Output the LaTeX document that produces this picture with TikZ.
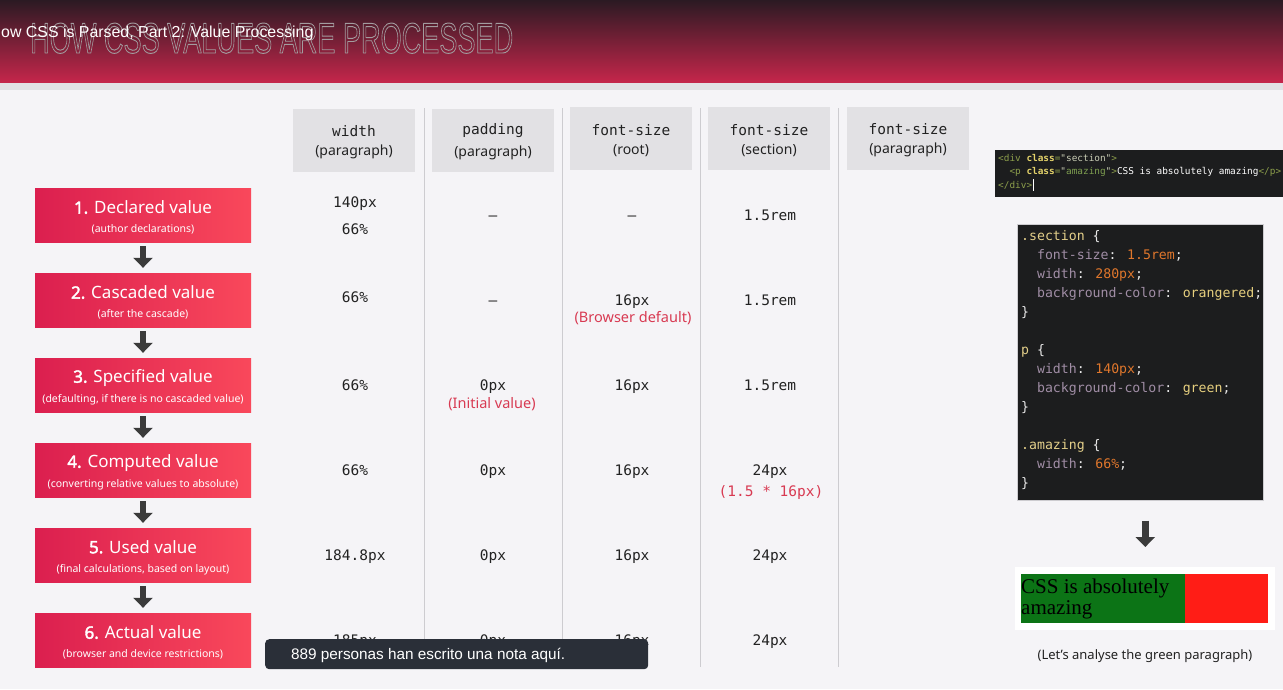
\documentclass[tikz,border=0pt]{standalone}
\usepackage{fontspec}
\usepackage{graphicx}
\usetikzlibrary{arrows.meta}
\setmainfont{Noto Sans}
\newfontfamily\fbold{Noto Sans}[FakeBold=2.2]
\newfontfamily\cmono{DejaVu Sans Mono}
\newfontfamily\arialf{Liberation Sans}
\newfontfamily\serf{Liberation Serif}
\definecolor{bg}{HTML}{F5F4F7}
\definecolor{hdtop}{HTML}{2B1A23}
\definecolor{hdbot}{HTML}{C6264B}
\definecolor{band}{HTML}{E2E1E4}
\definecolor{stepL}{HTML}{DB1F4F}
\definecolor{stepR}{HTML}{F9485B}
\definecolor{arrc}{HTML}{3B3B3B}
\definecolor{colh}{HTML}{E2E1E4}
\definecolor{sepc}{HTML}{CDCCD0}
\definecolor{txt}{HTML}{222222}
\definecolor{redn}{HTML}{D83A52}
\definecolor{tip}{HTML}{2A2F38}
\definecolor{codebg}{HTML}{1C1D1E}
\definecolor{csel}{HTML}{E3CF8A}
\definecolor{cprop}{HTML}{A08DA5}
\definecolor{cnum}{HTML}{E0772C}
\definecolor{ckey}{HTML}{E6CF7E}
\definecolor{cpun}{HTML}{E8E8E8}
\definecolor{htag}{HTML}{8C9E4B}
\definecolor{hatt}{HTML}{E4D36A}
\definecolor{hstr}{HTML}{C9CDB5}
\definecolor{hstrg}{HTML}{7FA050}
\definecolor{pgreen}{HTML}{0C7416}
\definecolor{pred}{HTML}{FF1D16}
\definecolor{titlec}{HTML}{A39C9F}
\newcommand\outl[1]{\special{pdf:literal direct 1 Tr 0.22 w 1 j}#1\special{pdf:literal direct 0 Tr}}
\begin{document}
\begin{tikzpicture}[x=1pt,y=-1pt,
  stepbox/.style={rectangle, minimum width=216pt, minimum height=54pt, left color=stepL, right color=stepR, text=white, align=center, inner sep=0pt},
  downarr/.style={draw=arrc, line width=6.5pt, -{Triangle[width=19pt,length=10pt]}},
  colhead/.style={rectangle, fill=colh, minimum width=122pt, minimum height=63pt, align=center, text=txt, inner sep=0pt},
  cell/.style={font=\cmono\fontsize{14.5}{16}\selectfont, text=txt, inner sep=0pt, anchor=base},
  note/.style={font=\fontsize{14.5}{16}\selectfont, text=redn, inner sep=0pt},
  sep/.style={draw=sepc, line width=1pt}]
\useasboundingbox (0,0) rectangle (1283,689);
\fill[bg] (0,0) rectangle (1283,689);
% header
\shade[top color=hdtop, bottom color=hdbot] (0,0) rectangle (1283,83);
\fill[band] (0,83) rectangle (1283,90);
\node[anchor=base west, inner sep=0pt, text=titlec] (title) at (30,53)
  {\resizebox{483pt}{30pt}{\arialf\outl{HOW CSS VALUES ARE PROCESSED}}};
\node[anchor=base west, inner sep=0pt, text=white, font=\arialf\fontsize{15.9}{17}\selectfont] (vidtitle) at (1,37)
  {ow CSS is Parsed, Part 2: Value Processing};
% separators
\coordinate (t1) at (424,108); \coordinate (b1) at (424,667);
\coordinate (t2) at (562,108); \coordinate (b2) at (562,667);
\coordinate (t3) at (700,108); \coordinate (b3) at (700,667);
\coordinate (t4) at (838,108); \coordinate (b4) at (838,667);
\draw[sep] (t1) -- (b1); \draw[sep] (t2) -- (b2); \draw[sep] (t3) -- (b3); \draw[sep] (t4) -- (b4);
% column headers
\newcommand\hd[2]{{\cmono\fontsize{14.5}{16}\selectfont\rule{0pt}{15pt}#1}\\[7pt]{\fontsize{14}{16}\selectfont #2}}
\node[colhead] (h1) at (354,140) {\hd{width}{(paragraph)}};
\node[colhead] (h2) at (493,140) {\hd{padding}{(paragraph)}};
\node[colhead] (h3) at (631,138.5) {\hd{font-size}{(root)}};
\node[colhead] (h4) at (769,138.5) {\hd{font-size}{(section)}};
\node[colhead] (h5) at (908,138.5) {\hd{font-size}{(paragraph)}};
% steps
\newcommand\st[3]{{\fontsize{17}{19}\selectfont\rule{0pt}{18pt}{\fbold #1} #2}\\[7pt]{\fontsize{10.5}{12}\selectfont #3}}
\node[stepbox] (s1) at (143,215) {\st{1.}{Declared value}{(author declarations)}};
\node[stepbox] (s2) at (143,300) {\st{2.}{Cascaded value}{(after the cascade)}};
\node[stepbox] (s3) at (143,385) {\st{3.}{Specified value}{(defaulting, if there is no cascaded value)}};
\node[stepbox] (s4) at (143,470) {\st{4.}{Computed value}{(converting relative values to absolute)}};
\node[stepbox] (s5) at (143,555) {\st{5.}{Used value}{(final calculations, based on layout)}};
\node[stepbox] (s6) at (143,640) {\st{6.}{Actual value}{(browser and device restrictions)}};
\foreach \a/\b in {s1/s2,s2/s3,s3/s4,s4/s5,s5/s6}
  \draw[downarr, shorten <=4pt, shorten >=5pt] (\a.south) -- (\b.north);
% cells (base line = visual centre + 5.5)
\node[cell] (r1c1a) at (355,207.5) {140px};
\node[cell] (r1c1b) at (355,234.5) {66\%};
\node[cell] (r1c2) at (493,220.5) {–};
\node[cell] (r1c3) at (632,220.5) {–};
\node[cell] (r1c4) at (770,220.5) {1.5rem};
\node[cell] (r2c1) at (355,302.5) {66\%};
\node[cell] (r2c2) at (493,305.5) {–};
\node[cell] (r2c3) at (632,305.5) {16px};
\node[note] (r2c3n) at (633,318) {(Browser default)};
\node[cell] (r2c4) at (770,305.5) {1.5rem};
\node[cell] (r3c1) at (355,390.5) {66\%};
\node[cell] (r3c2) at (493,390.5) {0px};
\node[note] (r3c2n) at (492,404) {(Initial value)};
\node[cell] (r3c3) at (632,390.5) {16px};
\node[cell] (r3c4) at (770,390.5) {1.5rem};
\node[cell] (r4c1) at (355,475.5) {66\%};
\node[cell] (r4c2) at (493,475.5) {0px};
\node[cell] (r4c3) at (632,475.5) {16px};
\node[cell] (r4c4) at (770,475.5) {24px};
\node[cell, text=redn] (r4c4n) at (771,496.5) {(1.5 * 16px)};
\node[cell] (r5c1) at (355,560.5) {184.8px};
\node[cell] (r5c2) at (493,560.5) {0px};
\node[cell] (r5c3) at (632,560.5) {16px};
\node[cell] (r5c4) at (770,560.5) {24px};
\node[cell] (r6c1) at (355,645.5) {185px};
\node[cell] (r6c2) at (493,645.5) {0px};
\node[cell] (r6c3) at (632,645.5) {16px};
\node[cell] (r6c4) at (770,645.5) {24px};
% tooltip
\node[rectangle, rounded corners=4pt, fill=tip, minimum width=383pt, minimum height=30pt, anchor=north west, inner sep=0pt] (tooltip) at (265,639) {};
\node[anchor=west, inner sep=0pt, text=white, font=\arialf\fontsize{15.3}{17}\selectfont] (tiptext) at (291,655) {889 personas han escrito una nota aquí.};
% html code
\node[rectangle, fill=codebg, minimum width=288pt, minimum height=47pt, anchor=north west, inner sep=0pt] (html) at (995,150) {};
\node[anchor=north west, inner sep=0pt, align=left, font=\cmono\fontsize{9.4}{13.5}\selectfont] (htmltext) at (998,154)
  {{\color{htag}<div} {\color{hatt}\textbf{class}}{\color{htag}=}{\color{hstr}"section"}{\color{htag}>}\\
   \phantom{xx}{\color{htag}<p} {\color{hatt}\textbf{class}}{\color{htag}=}{\color{hstr}"}{\color{hstrg}amazing}{\color{hstr}"}{\color{htag}>}{\color{white}CSS is absolutely amazing}{\color{htag}</p>}\\
   {\color{htag}</div>}};
\coordinate (cur1) at (1033,179); \coordinate (cur2) at (1033,191);
\draw[white, line width=0.8pt] (cur1) -- (cur2);
% css code
\node[rectangle, fill=codebg, draw=sepc, line width=0.6pt, minimum width=246pt, minimum height=276pt, anchor=north west, inner sep=0pt] (css) at (1017,224) {};
\node[anchor=north west, inner sep=0pt, align=left, font=\cmono\fontsize{13.2}{19}\selectfont] (csstext) at (1021,230)
  {{\color{csel}.section} {\color{cpun}\{}\\
   \phantom{xx}{\color{cprop}font-size}{\color{cpun}:} {\color{cnum}1.5rem}{\color{cpun};}\\
   \phantom{xx}{\color{cprop}width}{\color{cpun}:} {\color{cnum}280px}{\color{cpun};}\\
   \phantom{xx}{\color{cprop}background-color}{\color{cpun}:} {\color{ckey}orangered}{\color{cpun};}\\
   {\color{cpun}\}}\\
   \mbox{}\\
   {\color{csel}p} {\color{cpun}\{}\\
   \phantom{xx}{\color{cprop}width}{\color{cpun}:} {\color{cnum}140px}{\color{cpun};}\\
   \phantom{xx}{\color{cprop}background-color}{\color{cpun}:} {\color{ckey}green}{\color{cpun};}\\
   {\color{cpun}\}}\\
   \mbox{}\\
   {\color{csel}.amazing} {\color{cpun}\{}\\
   \phantom{xx}{\color{cprop}width}{\color{cpun}:} {\color{cnum}66\%}{\color{cpun};}\\
   {\color{cpun}\}}};
% preview
\node[rectangle, fill=white, minimum width=260pt, minimum height=63pt, anchor=north west, inner sep=0pt] (prev) at (1015,567) {};
\fill[pgreen] (1021,574) rectangle (1185,623);
\fill[pred] (1185,574) rectangle (1268,623);
\node[anchor=north west, inner sep=0pt, align=left, font=\serf\fontsize{21}{21}\selectfont] (prevtext) at (1021,579) {CSS is absolutely\\amazing};
\draw[downarr, shorten <=20pt, shorten >=20pt] ([xshift=5pt]css.south) -- ([xshift=5pt]css.south |- prev.north);
\node[inner sep=0pt, text=txt, font=\fontsize{13}{15}\selectfont] (caption) at (1145,656) {(Let’s analyse the green paragraph)};
\end{tikzpicture}
\end{document}
